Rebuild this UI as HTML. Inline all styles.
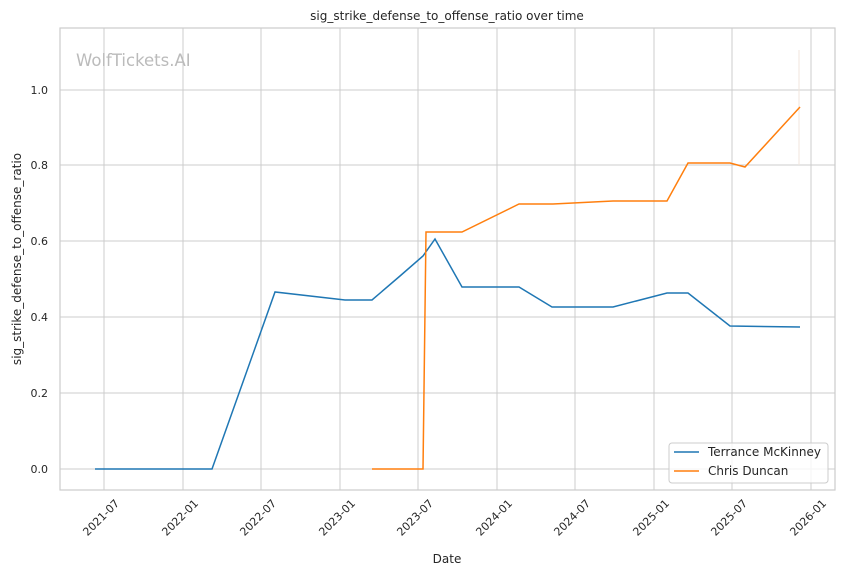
<!DOCTYPE html><html><head><style>body{margin:0;background:#fff}svg{font-family:"DejaVu Sans","Liberation Sans",sans-serif}</style></head><body>
<svg width="844" height="575" xmlns="http://www.w3.org/2000/svg">
<rect width="844" height="575" fill="#fff"/>
<g stroke="#cccccc" stroke-width="1">
<line x1="104" y1="28" x2="104" y2="490"/><line x1="183" y1="28" x2="183" y2="490"/><line x1="261" y1="28" x2="261" y2="490"/><line x1="340" y1="28" x2="340" y2="490"/><line x1="418" y1="28" x2="418" y2="490"/><line x1="497" y1="28" x2="497" y2="490"/><line x1="575" y1="28" x2="575" y2="490"/><line x1="654" y1="28" x2="654" y2="490"/><line x1="732" y1="28" x2="732" y2="490"/><line x1="811" y1="28" x2="811" y2="490"/>
<line x1="60" y1="469" x2="835" y2="469"/><line x1="60" y1="393" x2="835" y2="393"/><line x1="60" y1="317" x2="835" y2="317"/><line x1="60" y1="241" x2="835" y2="241"/><line x1="60" y1="165" x2="835" y2="165"/><line x1="60" y1="90" x2="835" y2="90"/>
</g>
<rect x="60" y="28" width="775" height="462" fill="none" stroke="#cccccc" stroke-width="1.2"/>
<line x1="799" y1="50" x2="799" y2="165" stroke="#f0e6dc" stroke-width="1"/>
<text x="76" y="66" font-size="16.5" fill="#bbbbbb">WolfTickets.AI</text>
<polyline fill="none" stroke="#1f77b4" stroke-width="1.5" points="95,469 212,469 275,292 345,300 372,300 400,276 423,256 435,239 462,287 519,287 552,307 613,307 667,293 688,293 730,326 800,327"/>
<polyline fill="none" stroke="#ff7f0e" stroke-width="1.5" points="372,469 423,469 426,232 462,232 519,204 553,204 613,201 667,201 688,163 730,163 745,167 800,107"/>
<g font-size="11" fill="#262626" text-anchor="end">
<text x="48" y="473">0.0</text><text x="48" y="397">0.2</text><text x="48" y="321">0.4</text><text x="48" y="245">0.6</text><text x="48" y="169">0.8</text><text x="48" y="94">1.0</text>
</g>
<g font-size="11" fill="#262626" text-anchor="end">
<text transform="translate(120,504) rotate(-45)">2021-07</text><text transform="translate(199,504) rotate(-45)">2022-01</text><text transform="translate(277,504) rotate(-45)">2022-07</text><text transform="translate(356,504) rotate(-45)">2023-01</text><text transform="translate(434,504) rotate(-45)">2023-07</text><text transform="translate(513,504) rotate(-45)">2024-01</text><text transform="translate(591,504) rotate(-45)">2024-07</text><text transform="translate(670,504) rotate(-45)">2025-01</text><text transform="translate(748,504) rotate(-45)">2025-07</text><text transform="translate(827,504) rotate(-45)">2026-01</text>
</g>
<text x="447" y="20" font-size="12" fill="#262626" text-anchor="middle">sig_strike_defense_to_offense_ratio over time</text>
<text x="447" y="563" font-size="12" fill="#262626" text-anchor="middle">Date</text>
<text transform="translate(21,259) rotate(-90)" font-size="12" fill="#262626" text-anchor="middle">sig_strike_defense_to_offense_ratio</text>
<rect x="669" y="443" width="159" height="40" rx="3" fill="#fff" fill-opacity="0.8" stroke="#cccccc"/>
<line x1="674" y1="452" x2="699" y2="452" stroke="#1f77b4" stroke-width="1.5"/>
<line x1="674" y1="471" x2="699" y2="471" stroke="#ff7f0e" stroke-width="1.5"/>
<g font-size="12" fill="#262626"><text x="708" y="456">Terrance McKinney</text><text x="708" y="475">Chris Duncan</text></g>
</svg></body></html>
